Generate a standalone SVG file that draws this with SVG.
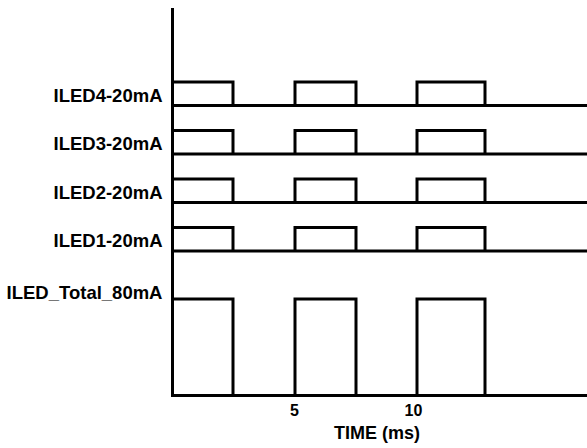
<svg xmlns="http://www.w3.org/2000/svg" width="587" height="448" viewBox="0 0 587 448">
<style>
.sig{fill:none;stroke:#000;stroke-width:3;stroke-linejoin:miter;stroke-linecap:butt}
.lbl{font-family:"Liberation Sans",Arial,sans-serif;font-weight:bold;font-size:18.5px;fill:#000;text-anchor:end}
.tick{font-family:"Liberation Sans",Arial,sans-serif;font-weight:bold;font-size:16px;fill:#000;text-anchor:middle}
</style>
<rect width="587" height="448" fill="#fff"/>
<g id="axes">
<line class="sig" x1="172.5" y1="8" x2="172.5" y2="397"/>
</g>
<g id="connectors">
<g id="w4">
<path class="sig" d="M172.5 105.5 H587"/>
<path class="sig" d="M172.5 82 H233 V105.5 M295 105.5 V82 H356 V105.5 M417 105.5 V82 H485 V105.5"/>
</g>
<g id="w3">
<path class="sig" d="M172.5 154 H587"/>
<path class="sig" d="M172.5 130.5 H233 V154 M295 154 V130.5 H356 V154 M417 154 V130.5 H485 V154"/>
</g>
<g id="w2">
<path class="sig" d="M172.5 202.5 H587"/>
<path class="sig" d="M172.5 179 H233 V202.5 M295 202.5 V179 H356 V202.5 M417 202.5 V179 H485 V202.5"/>
</g>
<g id="w1">
<path class="sig" d="M172.5 251 H587"/>
<path class="sig" d="M172.5 227.5 H233 V251 M295 251 V227.5 H356 V251 M417 251 V227.5 H485 V251"/>
</g>
<g id="wt">
<path class="sig" d="M172.5 395.5 H587"/>
<path class="sig" d="M172.5 299 H233 V395.5 M295 395.5 V299 H356 V395.5 M417 395.5 V299 H485 V395.5"/>
</g>
</g>
<g id="labels">
<text class="lbl" x="162.5" y="101.5">ILED4-20mA</text>
<text class="lbl" x="162.5" y="150">ILED3-20mA</text>
<text class="lbl" x="162.5" y="198.5">ILED2-20mA</text>
<text class="lbl" x="162.5" y="247">ILED1-20mA</text>
<text class="lbl" x="162.5" y="298.5">ILED_Total_80mA</text>
</g>
<g id="xaxis-labels">
<text class="tick" x="294.5" y="415.5">5</text>
<text class="tick" x="413.5" y="415.5">10</text>
<text class="tick" x="377" y="438.5" style="font-size:18px">TIME (ms)</text>
</g>
</svg>
